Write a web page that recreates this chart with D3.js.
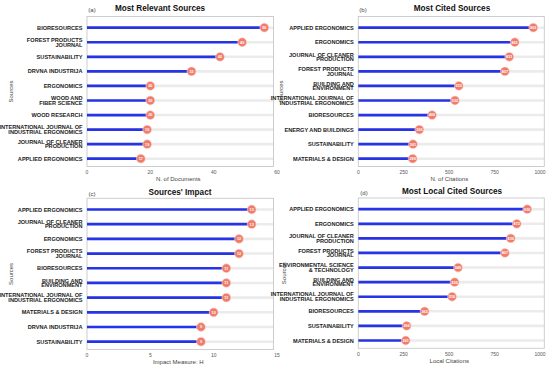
<!DOCTYPE html>
<html>
<head>
<meta charset="utf-8">
<script src="https://cdn.jsdelivr.net/npm/d3@7"></script>
<style>
  body { margin: 0; background: #fff; }
  svg { display: block; font-family: "Liberation Sans", Arial, sans-serif; }
  .cat { font-weight: bold; fill: #222; font-size: 5.6px; }
  .tick-text { fill: #555; font-size: 5px; }
  .axis-title { fill: #444; font-size: 6px; }
  .title { font-weight: bold; font-size: 8.2px; fill: #111; }
  .tag { font-size: 6px; fill: #444; }
  .val { fill: #fff; font-size: 3.8px; font-weight: bold; }
</style>
</head>
<body>
<svg id="chart" width="550" height="369"></svg>
<script>
// ── DATA ────────────────────────────────────────────────────────────────
const relevantSources = ['BIORESOURCES', 'FOREST PRODUCTS\nJOURNAL', 'SUSTAINABILITY', 'DRVNA INDUSTRIJA',
  'ERGONOMICS', 'WOOD AND\nFIBER SCIENCE', 'WOOD RESEARCH', 'INTERNATIONAL JOURNAL OF\nINDUSTRIAL ERGONOMICS',
  'JOURNAL OF CLEANER\nPRODUCTION', 'APPLIED ERGONOMICS'];
const relevantDocs = [56, 49, 42, 33, 20, 20, 20, 19, 19, 17];

const citedSources = ['APPLIED ERGONOMICS', 'ERGONOMICS', 'JOURNAL OF CLEANER\nPRODUCTION', 'FOREST PRODUCTS\nJOURNAL',
  'BUILDING AND\nENVIRONMENT', 'INTERNATIONAL JOURNAL OF\nINDUSTRIAL ERGONOMICS', 'BIORESOURCES',
  'ENERGY AND BUILDINGS', 'SUSTAINABILITY', 'MATERIALS & DESIGN'];
const citedCounts = [963, 861, 831, 807, 553, 532, 406, 336, 301, 299];

const impactSources = ['APPLIED ERGONOMICS', 'JOURNAL OF CLEANER\nPRODUCTION', 'ERGONOMICS', 'FOREST PRODUCTS\nJOURNAL',
  'BIORESOURCES', 'BUILDING AND\nENVIRONMENT', 'INTERNATIONAL JOURNAL OF\nINDUSTRIAL ERGONOMICS',
  'MATERIALS & DESIGN', 'DRVNA INDUSTRIJA', 'SUSTAINABILITY'];
const impactH = [13, 13, 12, 12, 11, 11, 11, 10, 9, 9];

const localSources = ['APPLIED ERGONOMICS', 'ERGONOMICS', 'JOURNAL OF CLEANER\nPRODUCTION', 'FOREST PRODUCTS\nJOURNAL',
  'ENVIRONMENTAL SCIENCE\n& TECHNOLOGY', 'BUILDING AND\nENVIRONMENT', 'INTERNATIONAL JOURNAL OF\nINDUSTRIAL ERGONOMICS',
  'BIORESOURCES', 'SUSTAINABILITY', 'MATERIALS & DESIGN'];
const localCites = [930, 872, 839, 807, 549, 530, 516, 365, 266, 261];

const ticksDocs = [0, 20, 40, 60];
const ticksCites = [0, 250, 500, 750, 1000];
const ticksH = [0, 5, 10, 15];

// ── PANELS ──────────────────────────────────────────────────────────────
const svg = d3.select('#chart');

const panels = [
  { tag: '(a)', title: 'Most Relevant Sources', xTitle: 'N. of Documents', cats: relevantSources, vals: relevantDocs,
    domain: [0, 60], ticks: ticksDocs, left: 87, right: 273.5, xEnd: 277, top: 16.5, bottom: 166.5,
    titleX: 160, titleY: 11, tagX: 92, srcX: 13 },
  { tag: '(b)', title: 'Most  Cited Sources', xTitle: 'N. of Citations', cats: citedSources, vals: citedCounts,
    domain: [0, 1000], ticks: ticksCites, left: 358.3, right: 544.3, xEnd: 540, top: 16.5, bottom: 166.5,
    titleX: 452, titleY: 11, tagX: 363, srcX: 283 },
  { tag: '(c)', title: "Sources' Impact", xTitle: 'Impact Measure: H', cats: impactSources, vals: impactH,
    domain: [0, 15], ticks: ticksH, left: 87, right: 273.5, xEnd: 277, top: 198.3, bottom: 349.5,
    titleX: 180, titleY: 195, tagX: 92, srcX: 13 },
  { tag: '(d)', title: 'Most Local Cited Sources', xTitle: 'Local Citations', cats: localSources, vals: localCites,
    domain: [0, 1000], ticks: ticksCites, left: 358.3, right: 544.3, xEnd: 540, top: 198, bottom: 348.3,
    titleX: 452, titleY: 193.5, tagX: 364, srcX: 286 },
];

panels.forEach(p => {
  const g = svg.append('g');
  const x = d3.scaleLinear().domain(p.domain).range([p.left, p.xEnd]);
  const y = d3.scalePoint().domain(p.cats).range([p.top + 11.2, p.bottom - 7.8]);

  // titles
  g.append('text').attr('class', 'title').attr('x', p.titleX).attr('y', p.titleY)
    .attr('text-anchor', 'middle').text(p.title);
  g.append('text').attr('class', 'tag').attr('x', p.tagX).attr('y', p.titleY + 1)
    .attr('text-anchor', 'middle').text(p.tag);

  // background stripes
  g.append('g').selectAll('line').data(p.cats).join('line')
    .attr('x1', p.left).attr('x2', p.right)
    .attr('y1', d => y(d)).attr('y2', d => y(d))
    .attr('stroke', '#ebebeb').attr('stroke-width', 2.6);

  // panel border
  g.append('rect').attr('x', p.left).attr('y', p.top)
    .attr('width', p.right - p.left).attr('height', p.bottom - p.top)
    .attr('fill', 'none').attr('stroke', '#c8c8c8').attr('stroke-width', 0.9);

  // lollipop sticks
  g.append('g').selectAll('line').data(p.cats).join('line')
    .attr('x1', p.left).attr('x2', (d, i) => x(p.vals[i]))
    .attr('y1', d => y(d)).attr('y2', d => y(d))
    .attr('stroke', '#2634e6').attr('stroke-width', 2.7);

  // dots + values
  g.append('g').selectAll('circle').data(p.cats).join('circle')
    .attr('cx', (d, i) => x(p.vals[i])).attr('cy', d => y(d)).attr('r', 4.4)
    .attr('fill', '#f07b6b').attr('stroke', '#fbd3cc').attr('stroke-width', 0.6);
  g.append('g').selectAll('text').data(p.cats).join('text').attr('class', 'val')
    .attr('x', (d, i) => x(p.vals[i])).attr('y', d => y(d) + 1.4)
    .attr('text-anchor', 'middle').text((d, i) => p.vals[i]);

  // category labels
  g.append('g').selectAll('text').data(p.cats).join('text').attr('class', 'cat')
    .attr('text-anchor', 'end')
    .each(function (d) {
      const lines = d.split('\n');
      const t = d3.select(this);
      const y0 = y(d) + 2 - (lines.length - 1) * 2.3;
      lines.forEach((ln, k) => {
        t.append('tspan').attr('x', p.left - 4.5).attr('y', y0 + k * 4.6).text(ln);
      });
    });

  // x axis tick labels
  g.append('g').selectAll('text').data(p.ticks).join('text').attr('class', 'tick-text')
    .attr('x', d => x(d)).attr('y', p.bottom + 7.5)
    .attr('text-anchor', 'middle').text(d => d);

  g.append('text').attr('class', 'axis-title')
    .attr('x', (p.left + p.right) / 2 - 2).attr('y', p.bottom + 14.5)
    .attr('text-anchor', 'middle').text(p.xTitle);

  g.append('text').attr('class', 'axis-title')
    .attr('transform', `translate(${p.srcX},${(p.top + p.bottom) / 2}) rotate(-90)`)
    .attr('text-anchor', 'middle').text('Sources');
});
</script>
</body>
</html>
